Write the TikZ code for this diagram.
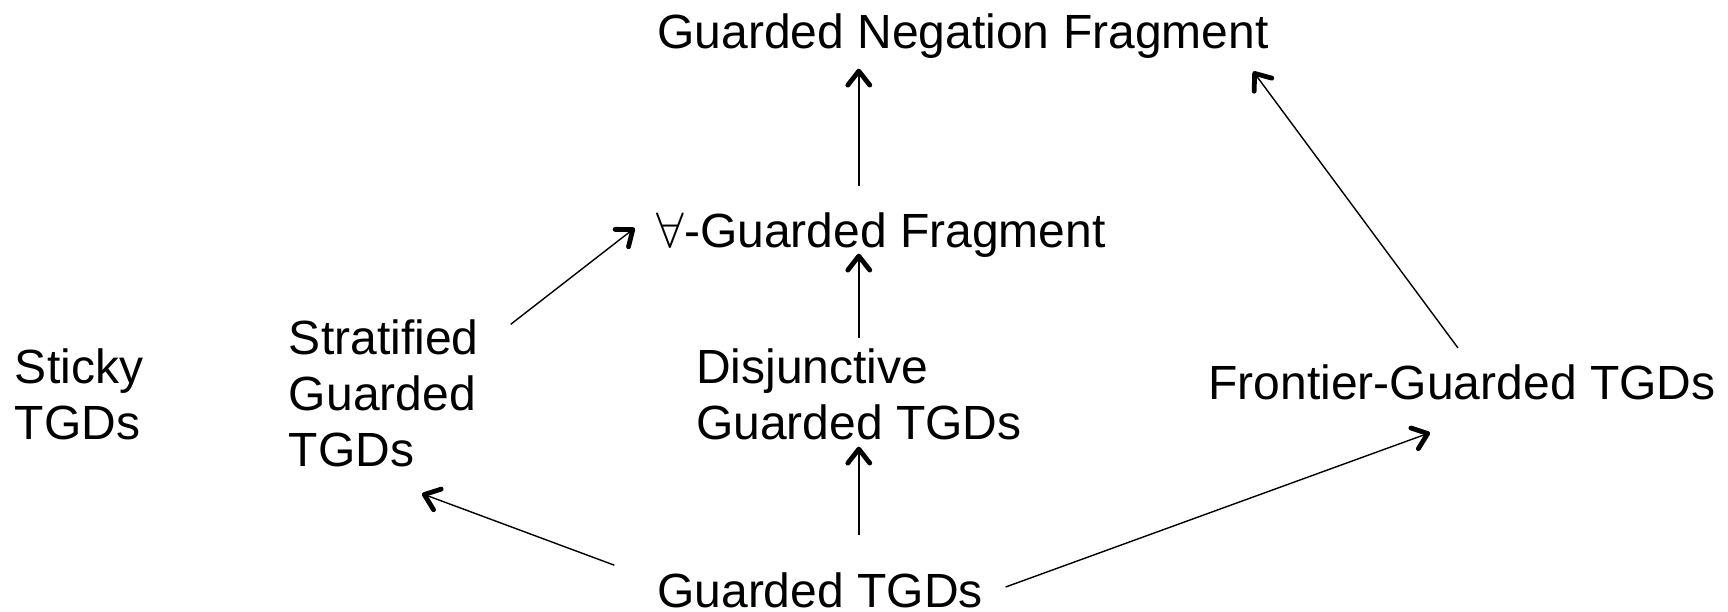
\documentclass[tikz,border=0pt]{standalone}
\usepackage{amsmath,amssymb}
\usepackage{fontspec}
\setmainfont{Liberation Sans}
\usepackage{tikz}
\usetikzlibrary{arrows.meta,positioning,calc}

\begin{document}
\begin{tikzpicture}[node distance=100pt,line width=0.7pt,
			every edge/.style={draw,-{Straight Barb[length=7pt,width=11pt,line width'=2.4pt,round]}}]
			\tikzstyle{every node}=[inner sep=0pt,text height=17.3pt,text depth=0pt,
				font=\fontsize{24}{28}\selectfont,align=left]
			\useasboundingbox (0,0) rectangle (864pt,-305.5pt);
			
			\node    (GT) at (410pt,-295pt)                  {Guarded TGDs};
			\node    (DG)[above of = GT, xshift=19.4pt, yshift=-16pt]   {Disjunctive\\Guarded TGDs};
			\node    (FG)[above of = DG, xshift=11.1pt, yshift=-4pt]    {$\forall$-Guarded Fragment};
			\node    (GN)[above of = FG, xshift=41pt, yshift=-0.75pt]   {Guarded Negation Fragment};
			\node    (SG)[left of = DG, xshift=-137.55pt, yshift=-13.8pt] {Stratified\\Guarded\\TGDs};
			\node    (ST)[left of = SG, xshift=-52.35pt, yshift=13.8pt]  {Sticky\\TGDs};
			\node    (FR)[right of = DG, xshift=201.6pt, yshift=20pt]    {Frontier-Guarded TGDs};
			
			\path
			(FG.north -| DG) edge[shorten <=12.85pt, shorten >=9.6pt] (GN.south -| DG)
			(DG.north) edge[shorten <=32.85pt, shorten >=2.85pt] (FG.south -| DG)
			(GT.north -| DG) edge[shorten <=18.4pt, shorten >=3.35pt] (DG.south)
			([xshift=-2pt,yshift=8pt]FR.north) edge ([xshift=-8pt,yshift=-11pt]GN.south east)
			([xshift=15.8pt,yshift=53.65pt]SG.north east) edge ([xshift=-10.5pt,yshift=1pt]FG.west)
			([xshift=-21.1pt,yshift=3.4pt]GT.north west) edge ([xshift=19.15pt,yshift=-13.05pt]SG.south)
			([xshift=11.1pt,yshift=1.5pt]GT.east) edge ([xshift=-16pt,yshift=-16.35pt]FR.south);
\end{tikzpicture}
\end{document}
